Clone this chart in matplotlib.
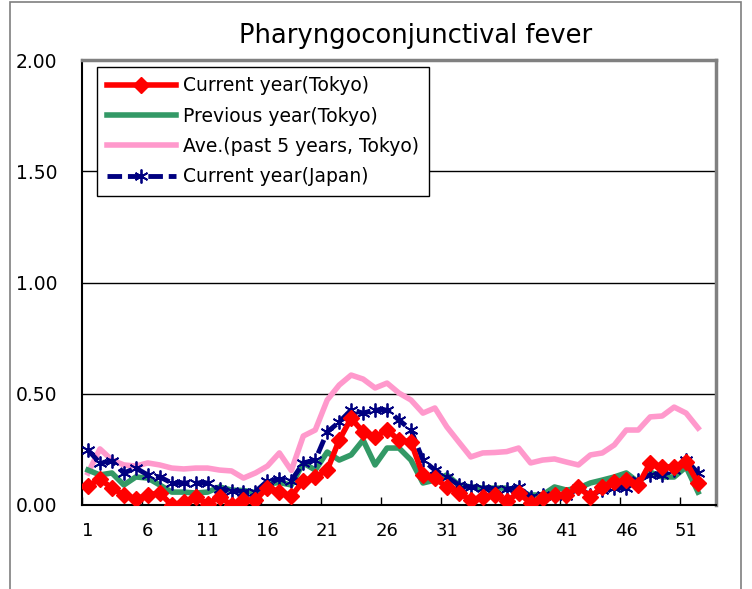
import matplotlib.pyplot as plt
from matplotlib.patches import Rectangle

weeks = list(range(1, 53))

current_tokyo = [0.085, 0.117, 0.076, 0.045, 0.027, 0.045, 0.054, 0.0, 0.013, 0.036,
                 0.005, 0.036, 0.0, 0.022, 0.022, 0.078, 0.058, 0.04, 0.108, 0.126,
                 0.157, 0.292, 0.39, 0.328, 0.306, 0.337, 0.292, 0.283, 0.135, 0.121,
                 0.081, 0.054, 0.022, 0.036, 0.045, 0.018, 0.054, 0.009, 0.031, 0.045,
                 0.045, 0.081, 0.036, 0.081, 0.103, 0.112, 0.09, 0.189, 0.171, 0.171,
                 0.193, 0.099]
previous_tokyo = [0.157, 0.135, 0.144, 0.09, 0.126, 0.121, 0.09, 0.058, 0.058, 0.054,
                  0.058, 0.081, 0.067, 0.065, 0.056, 0.095, 0.101, 0.09, 0.189, 0.157,
                  0.238, 0.202, 0.225, 0.292, 0.18, 0.256, 0.256, 0.202, 0.099, 0.112,
                  0.135, 0.09, 0.081, 0.076, 0.076, 0.076, 0.058, 0.045, 0.045, 0.081,
                  0.067, 0.076, 0.099, 0.112, 0.126, 0.144, 0.103, 0.148, 0.126, 0.126,
                  0.171, 0.058]
avg_5yr_tokyo = [0.144, 0.252, 0.202, 0.18, 0.175, 0.189, 0.18, 0.166, 0.162, 0.166,
                 0.166, 0.157, 0.153, 0.121, 0.144, 0.175, 0.234, 0.155, 0.31, 0.337,
                 0.472, 0.539, 0.584, 0.566, 0.526, 0.548, 0.503, 0.472, 0.413, 0.436,
                 0.351, 0.283, 0.216, 0.234, 0.236, 0.24, 0.256, 0.189, 0.202, 0.207,
                 0.193, 0.18, 0.225, 0.234, 0.27, 0.337, 0.337, 0.396, 0.4, 0.44,
                 0.413, 0.346]
current_japan = [0.247, 0.189, 0.198, 0.144, 0.166, 0.135, 0.126, 0.099, 0.099, 0.099,
                 0.099, 0.07, 0.065, 0.06, 0.06, 0.108, 0.116, 0.11, 0.189, 0.202,
                 0.328, 0.373, 0.427, 0.413, 0.427, 0.427, 0.382, 0.337, 0.202, 0.157,
                 0.126, 0.09, 0.081, 0.076, 0.074, 0.07, 0.081, 0.036, 0.045, 0.04,
                 0.04, 0.076, 0.045, 0.067, 0.076, 0.076, 0.112, 0.135, 0.135, 0.157,
                 0.202, 0.144]

x_labels = list(range(1, 53, 5))
y_ticks = [0.0, 0.5, 1.0, 1.5, 2.0]

fig = plt.figure(figsize=(7.52, 5.89), dpi=100)
ax = fig.add_axes([82 / 752, 1 - 505 / 589, 634 / 752, 445 / 589])

# outer chart border
fig.patches.append(Rectangle((10 / 752, -0.05), 731 / 752, 1.05 - 2 / 589,
                             transform=fig.transFigure, fill=False,
                             edgecolor='#7f7f7f', linewidth=1.2))

ax.plot(weeks, avg_5yr_tokyo, color='#ff99cc', linewidth=4, zorder=2,
        label='Ave.(past 5 years, Tokyo)')
ax.plot(weeks, previous_tokyo, color='#339966', linewidth=4, zorder=3,
        label='Previous year(Tokyo)')
ax.plot(weeks, current_japan, color='#000080', linewidth=3.5, linestyle=(0, (3, 1.2)),
        marker=(6, 2, 0), markersize=10, markeredgewidth=1.3, zorder=4,
        label='Current year(Japan)')
ax.plot(weeks, current_tokyo, color='#ff0000', linewidth=4, marker='D',
        markersize=8.5, zorder=5, label='Current year(Tokyo)')

ax.set_xlim(0.5, 53.5)
ax.set_ylim(0, 2)
ax.set_yticks(y_ticks)
ax.set_yticklabels(['%.2f' % v for v in y_ticks])
ax.set_xticks([x + 0.5 - 1 for x in x_labels])
ax.set_xticklabels([])
ax.set_xticks(x_labels, minor=True)
ax.set_xticklabels([str(x) for x in x_labels], minor=True)
ax.tick_params(axis='x', which='major', direction='in', length=6, width=1)
ax.tick_params(axis='x', which='minor', length=0, pad=12, labelsize=13)
ax.tick_params(axis='y', length=0, pad=18, labelsize=13.5)
ax.yaxis.grid(True, color='black', linewidth=1)
ax.set_axisbelow(True)

for s in ['left', 'bottom']:
    ax.spines[s].set_color('black')
    ax.spines[s].set_linewidth(1.5)
for s in ['top', 'right']:
    ax.spines[s].set_color('#808080')
    ax.spines[s].set_linewidth(2.5)

fig.text(416 / 752, 1 - 36 / 589, 'Pharyngoconjunctival fever', fontsize=18.5,
         ha='center', va='center')

handles, labels = ax.get_legend_handles_labels()
order = [3, 1, 0, 2]
leg = ax.legend([handles[i] for i in order], [labels[i] for i in order],
                loc='upper left', bbox_to_anchor=(0.024, 0.984), borderaxespad=0,
                fontsize=13.5, handlelength=3.7, handletextpad=0.4,
                labelspacing=0.6, borderpad=0.5, fancybox=False, framealpha=1)
leg.get_frame().set_edgecolor('black')
leg.get_frame().set_linewidth(1)

plt.savefig('out.png')
